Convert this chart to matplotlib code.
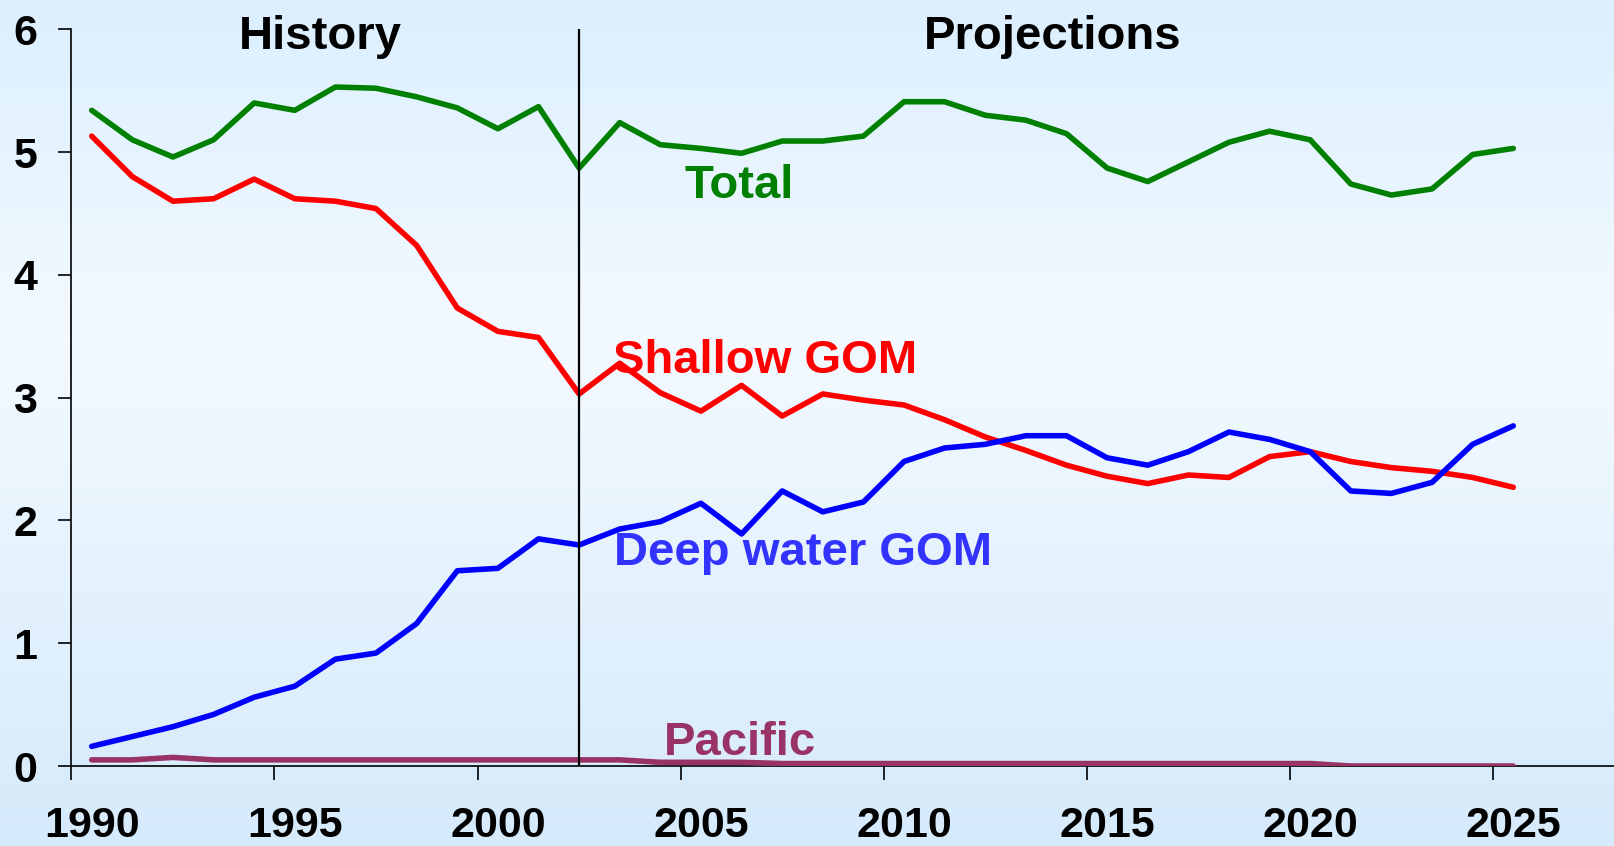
import numpy as np
import matplotlib.pyplot as plt
from matplotlib.colors import LinearSegmentedColormap

years = list(range(1990, 2026))

total = [5.34, 5.10, 4.96, 5.10, 5.40, 5.34, 5.53, 5.52, 5.45, 5.36, 5.19, 5.37,
         4.87, 5.24, 5.06, 5.03, 4.99, 5.09, 5.09, 5.13, 5.41, 5.41, 5.30, 5.26,
         5.15, 4.87, 4.76, 4.92, 5.08, 5.17, 5.10, 4.74, 4.65, 4.70, 4.98, 5.03]
shallow = [5.13, 4.80, 4.60, 4.62, 4.78, 4.62, 4.60, 4.54, 4.24, 3.73, 3.54, 3.49,
           3.03, 3.28, 3.04, 2.89, 3.10, 2.85, 3.03, 2.98, 2.94, 2.82, 2.68, 2.57,
           2.45, 2.36, 2.30, 2.37, 2.35, 2.52, 2.56, 2.48, 2.43, 2.40, 2.35, 2.27]
deep = [0.16, 0.24, 0.32, 0.42, 0.56, 0.65, 0.87, 0.92, 1.16, 1.59, 1.61, 1.85,
        1.80, 1.93, 1.99, 2.14, 1.89, 2.24, 2.07, 2.15, 2.48, 2.59, 2.62, 2.69,
        2.69, 2.51, 2.45, 2.56, 2.72, 2.66, 2.56, 2.24, 2.22, 2.31, 2.62, 2.77]
pacific = [0.05, 0.05, 0.07, 0.05, 0.05, 0.05, 0.05, 0.05, 0.05, 0.05, 0.05, 0.05,
           0.05, 0.05, 0.03, 0.03, 0.03, 0.02, 0.02, 0.02, 0.02, 0.02, 0.02, 0.02,
           0.02, 0.02, 0.02, 0.02, 0.02, 0.02, 0.02, 0.00, 0.00, 0.00, 0.00, 0.00]

tick_years = [1990, 1995, 2000, 2005, 2010, 2015, 2020, 2025]
y_ticks = [0, 1, 2, 3, 4, 5, 6]
split_year = 2002

FONT = 'Liberation Sans'
plt.rcParams['font.family'] = [FONT, 'DejaVu Sans']

fig = plt.figure(figsize=(16.14, 8.46), dpi=100)

# background gradient
bg = fig.add_axes([0, 0, 1, 1], zorder=-10)
grad_cmap = LinearSegmentedColormap.from_list(
    'bg', [(0, '#DCEFFE'), (0.4, '#F3FAFF'), (1, '#D5EAFB')])
bg.imshow(np.linspace(0, 1, 256).reshape(-1, 1), aspect='auto', cmap=grad_cmap,
          extent=[0, 1, 1, 0])
bg.axis('off')

ax = fig.add_axes([0.04424, 0.09456, 0.95576, 0.87081])
ax.patch.set_alpha(0)

lw = 4.0
ax.plot(years, total, color='#008000', lw=lw, solid_capstyle='round', zorder=3)
ax.plot(years, shallow, color='#FF0000', lw=lw, solid_capstyle='round', zorder=3)
ax.plot(years, deep, color='#0000FF', lw=lw, solid_capstyle='round', zorder=3)
ax.plot(years, pacific, color='#993366', lw=lw, solid_capstyle='round', zorder=3)

ax.axvline(split_year, color='black', lw=1.6, zorder=4)

ax.set_xlim(1989.5, 2027.48)
ax.set_ylim(0, 6)

for side in ['top', 'right']:
    ax.spines[side].set_visible(False)
for side in ['left', 'bottom']:
    ax.spines[side].set_linewidth(1.2)
    ax.spines[side].set_color('black')

ax.set_yticks(y_ticks)
ax.set_yticklabels([str(v) for v in y_ticks], fontsize=31, fontweight='bold')
ax.tick_params(axis='y', direction='out', length=9.5, width=1.2, pad=15)

ax.set_xticks([y - 0.5 for y in tick_years])
ax.set_xticklabels([])
ax.set_xticks(tick_years, minor=True)
ax.set_xticklabels([str(y) for y in tick_years], minor=True, fontsize=31, fontweight='bold')
ax.tick_params(axis='x', which='major', direction='out', length=10, width=1.2)
ax.tick_params(axis='x', which='minor', length=0, pad=29)

kw = dict(fontsize=34, fontweight='bold', ha='center', va='baseline')
ax.text(1995.62, 5.84, 'History', color='black', **kw)
ax.text(2013.66, 5.84, 'Projections', color='black', **kw)
ax.text(2005.93, 4.63, 'Total', color='#008000', **kw)
ax.text(2006.58, 3.20, 'Shallow GOM', color='#FF0000', **kw)
ax.text(2007.51, 1.64, 'Deep water GOM', color='#3333FF', **kw)
ax.text(2005.96, 0.09, 'Pacific', color='#993366', **kw)

fig.savefig('out.png', dpi=100)
